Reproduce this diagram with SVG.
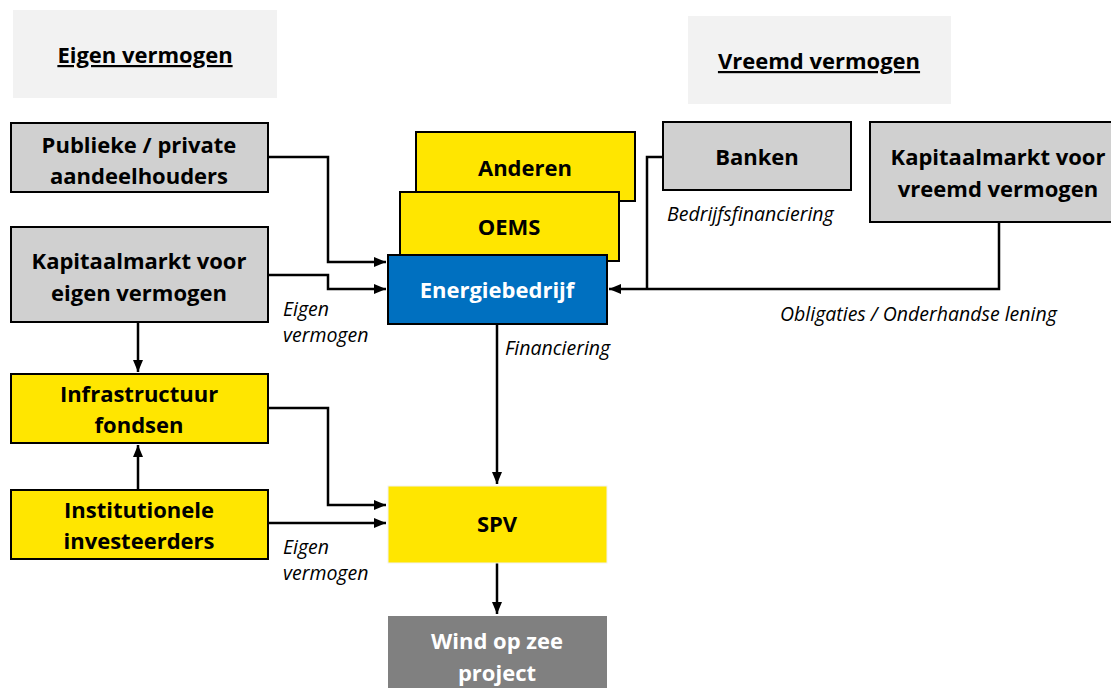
<svg xmlns="http://www.w3.org/2000/svg" width="1111" height="688" viewBox="0 0 1111 688">
<defs>
<marker id="ah" viewBox="0 0 12 10" refX="12" refY="5" markerWidth="12" markerHeight="10" markerUnits="userSpaceOnUse" orient="auto">
<path d="M0,0 L12,5 L0,10 Z" fill="#000"/>
</marker>
<style>
.t{font-family:"Open Sans",Lato,"Liberation Sans",sans-serif;font-weight:bold;font-size:22px;fill:#000;text-anchor:middle}
.w{fill:#fff}
.h{font-family:"Open Sans",Lato,"Liberation Sans",sans-serif;font-weight:bold;font-size:22px;fill:#000;text-anchor:middle;text-decoration:underline}
.i{font-family:"Open Sans",Lato,"Liberation Sans",sans-serif;font-style:italic;font-size:19.5px;fill:#000}
.g{fill:#d0d0d0;stroke:#000;stroke-width:2}
.y{fill:#ffe600;stroke:#000;stroke-width:2}
.c{fill:none;stroke:#000;stroke-width:2.5}
</style>
</defs>
<rect width="1111" height="688" fill="#fff"/>
<g id="hdr-eigen"><rect x="13" y="10" width="264" height="88" fill="#f2f2f2"/><text class="h" x="145" y="63">Eigen vermogen</text></g>
<g id="hdr-vreemd"><rect x="688" y="16" width="263" height="88" fill="#f2f2f2"/><text class="h" x="819" y="69">Vreemd vermogen</text></g>

<g id="connectors">
<path class="c" d="M268,157 H328 V262 H386" marker-end="url(#ah)"/>
<path class="c" d="M268,275 H328 V289 H386" marker-end="url(#ah)"/>
<path class="c" d="M138,322 V372" marker-end="url(#ah)"/>
<path class="c" d="M138,490 V445" marker-end="url(#ah)"/>
<path class="c" d="M268,408 H328 V505 H386" marker-end="url(#ah)"/>
<path class="c" d="M268,523 H386" marker-end="url(#ah)"/>
<path class="c" d="M497,324 V484" marker-end="url(#ah)"/>
<path class="c" d="M497,563 V614" marker-end="url(#ah)"/>
<path class="c" d="M663,157 H647 V289"/>
<path class="c" d="M999,222 V289 H609" marker-end="url(#ah)"/>
<text class="i" x="283" y="316">Eigen</text>
<text class="i" x="283" y="342">vermogen</text>
<text class="i" x="283" y="554">Eigen</text>
<text class="i" x="283" y="580">vermogen</text>
<text class="i" x="505" y="355">Financiering</text>
<text class="i" x="667" y="221">Bedrijfsfinanciering</text>
<text class="i" x="780" y="321">Obligaties / Onderhandse lening</text>
</g>

<g id="publieke"><rect class="g" x="11" y="123" width="257" height="69"/><text class="t" x="139" y="153">Publieke / private</text><text class="t" x="139" y="184">aandeelhouders</text></g>
<g id="kapeigen"><rect class="g" x="11" y="227" width="257" height="95"/><text class="t" x="139" y="269">Kapitaalmarkt voor</text><text class="t" x="139" y="301">eigen vermogen</text></g>
<g id="infra"><rect class="y" x="11" y="374" width="257" height="69"/><text class="t" x="139" y="402">Infrastructuur</text><text class="t" x="139" y="433">fondsen</text></g>
<g id="inst"><rect class="y" x="11" y="490" width="257" height="69"/><text class="t" x="139" y="518">Institutionele</text><text class="t" x="139" y="549">investeerders</text></g>
<g id="anderen"><rect class="y" x="416" y="132" width="219" height="69"/><text class="t" x="525" y="176">Anderen</text></g>
<g id="oems"><rect class="y" x="400" y="192" width="219" height="69"/><text class="t" x="509" y="235">OEMS</text></g>
<g id="energie"><rect x="388" y="255" width="219" height="69" fill="#0070c0" stroke="#000" stroke-width="2"/><text class="t w" x="497" y="298">Energiebedrijf</text></g>
<g id="banken"><rect class="g" x="663" y="122" width="188" height="68"/><text class="t" x="757" y="165">Banken</text></g>
<g id="kapvreemd"><rect class="g" x="870" y="122" width="245" height="100"/><text class="t" x="998" y="165">Kapitaalmarkt voor</text><text class="t" x="998" y="197">vreemd vermogen</text></g>
<g id="spv"><rect x="388" y="486" width="219" height="77" fill="#ffe600" stroke="#f2f2f2" stroke-width="1"/><text class="t" x="497" y="532">SPV</text></g>
<g id="wind"><rect x="388" y="616" width="219" height="76" fill="#808080"/><text class="t w" x="497" y="649">Wind op zee</text><text class="t w" x="497" y="681">project</text></g>
</svg>
